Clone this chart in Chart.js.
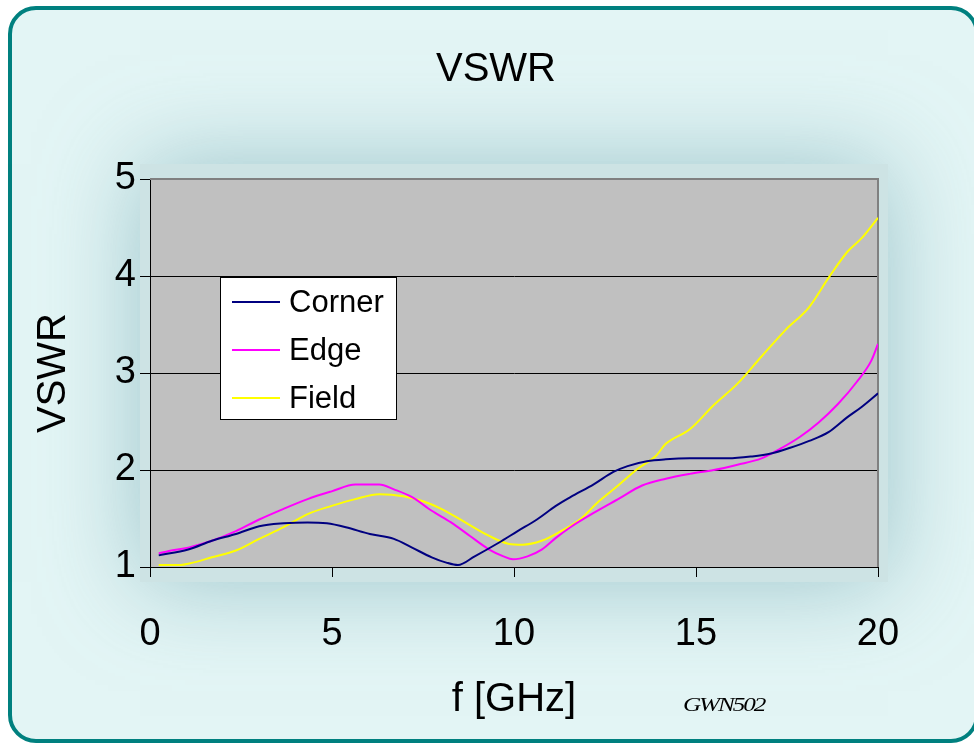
<!DOCTYPE html>
<html>
<head>
<meta charset="utf-8">
<title>VSWR</title>
<script src="https://cdn.jsdelivr.net/npm/chart.js@4.4.1/dist/chart.umd.min.js"></script>
<style>
    html, body { margin: 0; padding: 0; width: 974px; height: 743px; overflow: hidden; background: #ffffff; }
    #frame {
        position: absolute; left: 8px; top: 6px; right: -5px; bottom: 0px;
        border: 4px solid #00807f; border-radius: 28px;
        background: #e3f5f5;
    }
    #vswrChart { position: absolute; left: 0; top: 0; }
</style>
</head>
<body>
<div id="frame"></div>
<canvas id="vswrChart" width="974" height="743"></canvas>
<script>
// values
const cornerFreq = [0.24, 1.05, 1.7, 2.36, 3.0, 3.67, 4.33, 4.86, 5.38, 6.04, 6.7, 7.2, 7.74, 8.14, 8.46, 8.92, 9.58, 10.1, 10.63, 11.15, 11.55, 12.2, 12.73, 13.12, 13.65, 14.17, 14.83, 15.88, 16.54, 17.06, 17.59, 18.11, 18.64, 19.16, 19.55, 20.0];
const cornerVswr = [1.12, 1.18, 1.27, 1.34, 1.42, 1.45, 1.46, 1.45, 1.41, 1.34, 1.29, 1.2, 1.1, 1.045, 1.02, 1.11, 1.25, 1.37, 1.49, 1.63, 1.72, 1.855, 1.98, 2.04, 2.09, 2.11, 2.12, 2.12, 2.14, 2.17, 2.23, 2.3, 2.39, 2.545, 2.65, 2.79];

const edgeFreq = [0.24, 0.52, 1.05, 1.7, 2.36, 3.0, 3.67, 4.33, 4.99, 5.64, 6.3, 6.7, 7.2, 7.74, 8.27, 8.79, 9.32, 9.71, 9.97, 10.37, 10.76, 11.15, 11.55, 12.2, 12.86, 13.52, 14.17, 14.83, 15.49, 16.14, 16.8, 17.32, 17.85, 18.37, 18.9, 19.42, 19.82, 20.0];
const edgeVswr = [1.14, 1.165, 1.2, 1.27, 1.37, 1.49, 1.6, 1.7, 1.78, 1.85, 1.85, 1.8, 1.72, 1.58, 1.46, 1.32, 1.18, 1.11, 1.08, 1.11, 1.18, 1.3, 1.41, 1.56, 1.7, 1.84, 1.91, 1.96, 2.0, 2.055, 2.12, 2.22, 2.34, 2.49, 2.68, 2.91, 3.13, 3.3];

const fieldFreq = [0.24, 0.79, 1.18, 1.7, 2.36, 3.0, 3.67, 4.33, 4.99, 5.64, 6.3, 6.96, 7.48, 8.0, 8.66, 9.32, 9.84, 10.24, 10.76, 11.29, 11.81, 12.34, 12.86, 13.39, 13.91, 14.17, 14.83, 15.49, 16.14, 16.8, 17.45, 18.11, 18.64, 19.16, 19.55, 20.0];
const fieldVswr = [1.02, 1.02, 1.045, 1.1, 1.17, 1.29, 1.41, 1.545, 1.63, 1.7, 1.75, 1.73, 1.68, 1.6, 1.46, 1.32, 1.24, 1.23, 1.27, 1.37, 1.49, 1.68, 1.84, 2.01, 2.15, 2.27, 2.42, 2.67, 2.89, 3.17, 3.44, 3.68, 3.98, 4.25, 4.39, 4.6];

const seriesNames = ['Corner', 'Edge', 'Field'];
const seriesColors = ['#000080', '#ff00ff', '#ffff00'];
const xTicks = [0, 5, 10, 15, 20];
const yTicks = [1, 2, 3, 4, 5];
const chartTitle = 'VSWR';

function toPoints(freq, vals) {
    return freq.map((f, i) => ({ x: f, y: vals[i] }));
}

const FONT = 'Arial, "Liberation Sans", sans-serif';

// glow behind the plot, grey plot background, grey top/right frame
const plotBackground = {
    id: 'plotBackground',
    beforeDraw(chart) {
        const { ctx, chartArea: a } = chart;
        ctx.save();
        ctx.shadowColor = 'rgba(110, 165, 175, 0.6)';
        ctx.shadowBlur = 90;
        ctx.fillStyle = '#cde3e4';
        ctx.fillRect(a.left - 10, a.top - 15, a.width + 20, a.height + 30);
        ctx.shadowBlur = 0;
        ctx.fillStyle = '#c0c0c0';
        ctx.fillRect(a.left, a.top, a.width, a.height);
        ctx.restore();
    },
    beforeDatasetsDraw(chart) {
        const { ctx, chartArea: a } = chart;
        ctx.save();
        ctx.strokeStyle = '#808080';
        ctx.lineWidth = 2;
        ctx.beginPath();
        ctx.moveTo(a.left, a.top);
        ctx.lineTo(a.right, a.top);
        ctx.lineTo(a.right, a.bottom);
        ctx.stroke();
        ctx.restore();
    }
};

// boxed legend floating inside the plot, the title and the small mark at the bottom
const boxLegend = {
    id: 'boxLegend',
    afterDatasetsDraw(chart) {
        const { ctx, chartArea: a } = chart;
        const left = a.left + 70, top = a.top + 98, w = 176, h = 142;
        ctx.save();
        ctx.fillStyle = '#ffffff';
        ctx.fillRect(left, top, w, h);
        ctx.strokeStyle = '#000000';
        ctx.lineWidth = 1;
        ctx.strokeRect(left + 0.5, top + 0.5, w, h);
        ctx.font = '31px ' + FONT;
        ctx.textBaseline = 'middle';
        chart.data.datasets.forEach((ds, i) => {
            const y = top + 25 + i * 48;
            ctx.strokeStyle = ds.borderColor;
            ctx.lineWidth = 2;
            ctx.beginPath();
            ctx.moveTo(left + 12, y);
            ctx.lineTo(left + 60, y);
            ctx.stroke();
            ctx.fillStyle = '#000000';
            ctx.fillText(ds.label, left + 69, y + 1);
        });
        ctx.restore();
    },
    afterDraw(chart) {
        const { ctx } = chart;
        ctx.save();
        ctx.fillStyle = '#000000';
        ctx.font = '40px ' + FONT;
        ctx.textAlign = 'center';
        ctx.textBaseline = 'middle';
        ctx.fillText(chartTitle, 496, 70);
        ctx.textAlign = 'left';
        ctx.textBaseline = 'alphabetic';
        ctx.translate(683, 711);
        ctx.scale(1.4, 1.05);
        ctx.font = 'italic 18px "Liberation Serif", serif';
        ctx.letterSpacing = '-1.5px';
        ctx.fillText('GWN502', 0, 0);
        ctx.restore();
    }
};

new Chart(document.getElementById('vswrChart').getContext('2d'), {
    type: 'line',
    data: {
        datasets: [
            { label: seriesNames[0], data: toPoints(cornerFreq, cornerVswr), borderColor: seriesColors[0] },
            { label: seriesNames[1], data: toPoints(edgeFreq, edgeVswr), borderColor: seriesColors[1] },
            { label: seriesNames[2], data: toPoints(fieldFreq, fieldVswr), borderColor: seriesColors[2] }
        ]
    },
    options: {
        responsive: false,
        animation: false,
        layout: { padding: { left: 0, top: 179, right: 96, bottom: 0 } },
        elements: {
            line: { borderWidth: 2, cubicInterpolationMode: 'monotone', fill: false },
            point: { radius: 0 }
        },
        plugins: {
            legend: { display: false },
            tooltip: { enabled: false },
            title: { display: false }
        },
        scales: {
            x: {
                type: 'linear',
                min: 0,
                max: 20,
                afterBuildTicks: scale => { scale.ticks = xTicks.map(v => ({ value: v })); },
                afterFit: scale => { scale.height = 176; },
                grid: { drawOnChartArea: false, tickLength: 10, tickColor: '#000000', color: '#000000' },
                border: { display: true, color: '#000000', width: 1 },
                ticks: { color: '#000000', padding: 35, font: { family: FONT, size: 38 } },
                title: {
                    display: true,
                    text: 'f [GHz]',
                    color: '#000000',
                    font: { family: FONT, size: 40 },
                    padding: { top: 0, bottom: 19 }
                }
            },
            y: {
                min: 1,
                max: 5,
                afterBuildTicks: scale => { scale.ticks = yTicks.map(v => ({ value: v })); },
                afterFit: scale => { scale.width = 150; },
                grid: {
                    color: ctx => ctx.tick && ctx.tick.value === 5 ? 'rgba(0,0,0,0)' : '#000000',
                    tickColor: '#000000',
                    tickLength: 10,
                    lineWidth: 1
                },
                border: { display: true, color: '#000000', width: 1 },
                ticks: { color: '#000000', padding: 4, font: { family: FONT, size: 38 } },
                title: {
                    display: true,
                    text: 'VSWR',
                    color: '#000000',
                    font: { family: FONT, size: 40 },
                    padding: { top: 30, bottom: 0 }
                }
            }
        }
    },
    plugins: [plotBackground, boxLegend]
});
</script>
</body>
</html>
